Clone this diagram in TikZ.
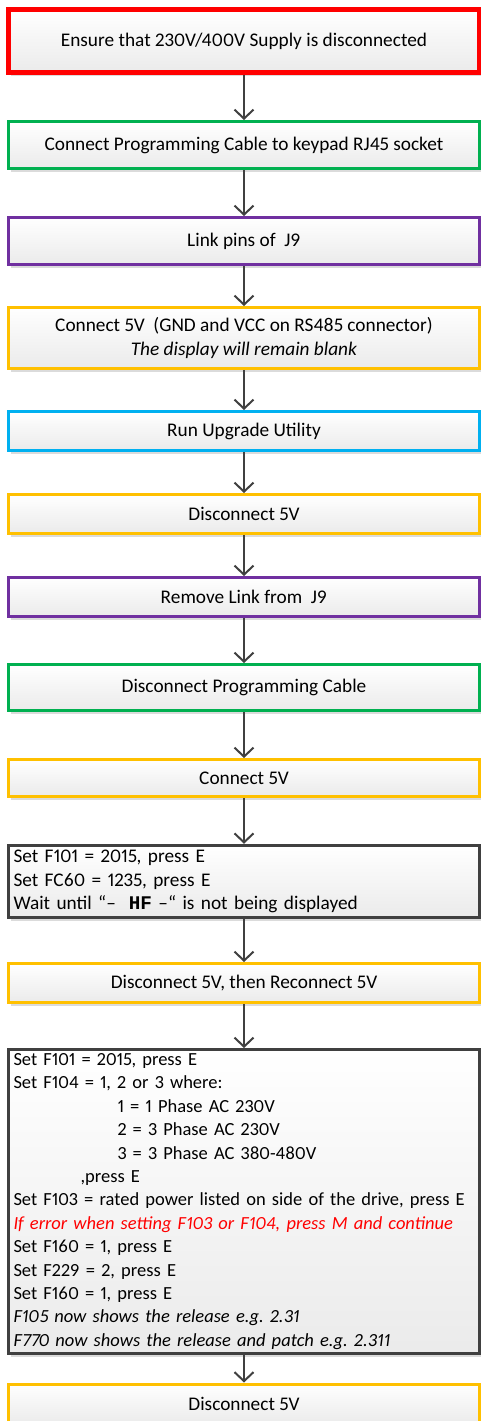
\documentclass[tikz,border=0pt]{standalone}
\usepackage{fontspec}
\setmainfont{Carlito}[Numbers=Proportional]
\newfontfamily\hfmono{Liberation Mono}
\usetikzlibrary{arrows.meta,shadows}
\definecolor{stepred}{HTML}{FF0000}
\definecolor{stepgreen}{HTML}{00B050}
\definecolor{steppurple}{HTML}{7030A0}
\definecolor{stepyellow}{HTML}{FFC000}
\definecolor{stepblue}{HTML}{00B0F0}
\definecolor{stepgray}{HTML}{404040}
\frenchspacing
\begin{document}
\begin{tikzpicture}[x=1pt,y=-1pt]
        \tikzstyle{every node}+=[inner sep=0pt, font=\fontsize{19.3}{23.5}\selectfont]
        \tikzstyle{box}=[draw, line width=3pt, minimum width=471pt, align=center, top color=white, bottom color=black!8, drop shadow={shadow xshift=2pt, shadow yshift=-3pt, fill=black!14, opacity=1}]
        \tikzstyle{flow}=[draw=stepgray, line width=2pt, -{Straight Barb[length=9pt,width=19pt]}]
        \useasboundingbox (0,0) rectangle (480,1421);
        \node [box, draw=stepred, line width=5pt, minimum height=63pt] (supply) at (244,41) {Ensure that 230V/400V Supply is disconnected};
        \node [box, draw=stepgreen, minimum height=47pt] (cable) at (244,145) {Connect Programming Cable to keypad RJ45 socket};
        \node [box, draw=steppurple, minimum height=47pt] (link) at (244,241) {Link pins of \ J9};
        \node [box, draw=stepyellow, minimum height=61pt] (power) at (244,338) {Connect 5V \ (GND and VCC on RS485 connector)\\\textit{The display will remain blank}};
        \node [box, draw=stepblue, minimum height=39pt] (utility) at (244,431) {Run Upgrade Utility};
        \node [box, draw=stepyellow, minimum height=39pt] (off) at (244,514) {Disconnect 5V};
        \node [box, draw=steppurple, minimum height=39pt] (unlink) at (244,597) {Remove Link from \ J9};
        \node [box, draw=stepgreen, minimum height=46pt] (uncable) at (244,687.5) {Disconnect Programming Cable};
        \node [box, draw=stepyellow, minimum height=37pt] (on) at (244,778) {Connect 5V};
        \node [box, draw=stepgray, line width=3.5pt, minimum height=72pt, align=left, text width=461pt] (reset) at (244,881.5) {Set F101 = 2015, press E\\Set FC60 = 1235, press E\\Wait until “–\ \ {\hfmono\bfseries HF}\ –“ is not being displayed};
        \node [box, draw=stepyellow, minimum height=39pt] (cycle) at (244,983) {Disconnect 5V, then Reconnect 5V};
        \node [box, draw=stepgray, minimum height=304pt, align=left, text width=461pt, font=\fontsize{18.5}{23.4}\selectfont] (setup) at (244,1201.5) {Set F101 = 2015, press E\\
          Set F104 = 1, 2 or 3 where:\\
          \hspace*{104pt}1 = 1 Phase AC 230V\\
          \hspace*{104pt}2 = 3 Phase AC 230V\\
          \hspace*{104pt}3 = 3 Phase AC 380-480V\\
          \hspace*{67pt},press E\\
          \mbox{Set F103 = rated power listed on side of the drive, press E}\\
          \mbox{\textcolor{stepred}{\itshape If error when setting F103 or F104, press M and continue}}\\
          Set F160 = 1, press E\\
          Set F229 = 2, press E\\
          Set F160 = 1, press E\\
          \textit{F105 now shows the release e.g. 2.31}\\
          \textit{F770 now shows the release and patch e.g. 2.311}};
        \node [box, draw=stepyellow, minimum height=40pt] (final) at (244,1404) {Disconnect 5V};
        % arrows between the steps
        \draw [flow] (supply) -- (cable);
        \draw [flow] (cable) -- (link);
        \draw [flow] (link) -- (power);
        \draw [flow] (power) -- (utility);
        \draw [flow] (utility) -- (off);
        \draw [flow] (off) -- (unlink);
        \draw [flow] (unlink) -- (uncable);
        \draw [flow] (uncable) -- (on);
        \draw [flow] (on) -- (reset);
        \draw [flow] (reset) -- (cycle);
        \draw [flow] (cycle) -- (setup);
        \draw [flow] (setup) -- (final);
\end{tikzpicture}
\end{document}
